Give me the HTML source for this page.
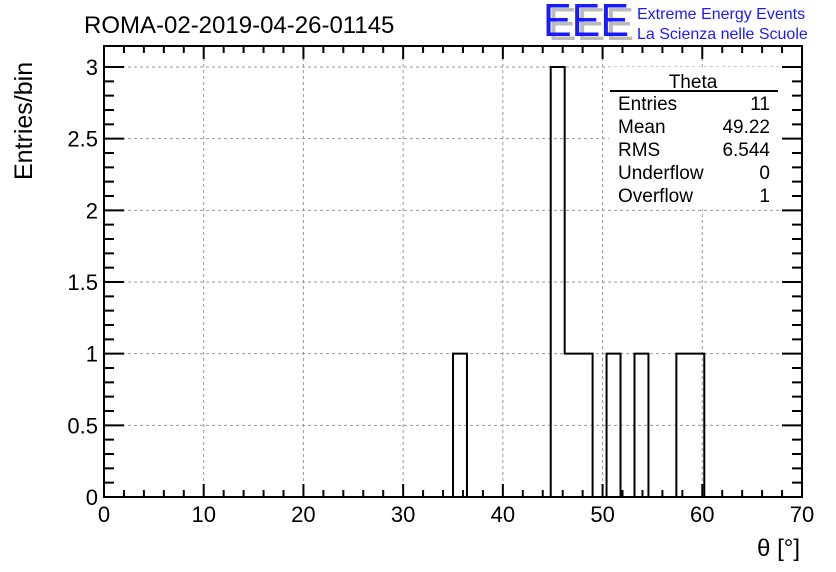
<!DOCTYPE html>
<html><head><meta charset="utf-8"><style>
html,body{margin:0;padding:0;background:#fff;}
svg{display:block;font-family:"Liberation Sans",sans-serif;}
</style></head><body>
<svg id="c" width="836" height="572" viewBox="0 0 836 572">
<rect width="836" height="572" fill="#fff"/>
<g id="grid"></g>
<g id="ticks"></g>
<path id="hist" fill="none" stroke="#000" stroke-width="2"/>
<rect x="104" y="46" width="698" height="451" fill="none" stroke="#000" stroke-width="2"/>
<g id="xlabels" font-size="22" text-anchor="middle"></g>
<g id="ylabels" font-size="22" text-anchor="end"></g>
<text x="84" y="33" font-size="24">ROMA-02-2019-04-26-01145</text>
<text x="800" y="556" font-size="24" text-anchor="end">θ [°]</text>
<text transform="translate(32,180) rotate(-90)" font-size="25">Entries/bin</text>
<g>
<text x="548" y="40" font-size="46" fill="#bbb" textLength="86" lengthAdjust="spacingAndGlyphs">EEE</text>
<text x="543" y="36" font-size="46" fill="#1a1aff" textLength="86" lengthAdjust="spacingAndGlyphs">EEE</text>
<text x="637" y="19" font-size="16" fill="#1a1aff">Extreme Energy Events</text>
<text x="637" y="39" font-size="16" fill="#1a1aff">La Scienza nelle Scuole</text>
</g>
<g font-size="19">
<rect x="609" y="67" width="170" height="142" fill="#fff"/>
<text x="693" y="88" text-anchor="middle">Theta</text>
<line x1="610" y1="91" x2="778" y2="91" stroke="#000" stroke-width="2"/>
<text x="618" y="110">Entries</text><text x="770" y="110" text-anchor="end">11</text>
<text x="618" y="133">Mean</text><text x="770" y="133" text-anchor="end">49.22</text>
<text x="618" y="156">RMS</text><text x="770" y="156" text-anchor="end">6.544</text>
<text x="618" y="179">Underflow</text><text x="770" y="179" text-anchor="end">0</text>
<text x="618" y="202">Overflow</text><text x="770" y="202" text-anchor="end">1</text>
</g>
</svg>
<script>
const binWidth = 1.4;
const nBins = 50;
const binStarts = [35.0, 44.8, 46.2, 47.6, 50.4, 53.2, 57.4, 58.8];
const binCounts = [1, 3, 1, 1, 1, 1, 1, 1];
const xTicks = [0,10,20,30,40,50,60,70];
const yTicks = [0,0.5,1,1.5,2,2.5,3];
const yTickLabels = ["0","0.5","1","1.5","2","2.5","3"];
const X0=104,X1=802,Y0=497,Y1=46;
const xs = v => X0 + (v-0)/70*(X1-X0);
const ys = v => Y0 - v/3*(Y0-67);
const NS="http://www.w3.org/2000/svg";
function mk(tag,attrs,parent){const e=document.createElementNS(NS,tag);for(const k in attrs)e.setAttribute(k,attrs[k]);parent.appendChild(e);return e;}
const grid=document.getElementById('grid'), ticks=document.getElementById('ticks');
xTicks.forEach(t=>{
  const l=mk('line',{x1:xs(t),x2:xs(t),y1:Y1,y2:Y0,stroke:'#999','stroke-dasharray':'3,3'},grid);
  
  
  const tx=mk('text',{x:xs(t),y:522},document.getElementById('xlabels'));
  tx.textContent=t;
  
  
});
yTicks.forEach((t,i)=>{
  const l=mk('line',{x1:X0,x2:X1,y1:ys(t),y2:ys(t),stroke:'#999','stroke-dasharray':'3,3'},grid);
  
  
  const tx=mk('text',{x:98,y:ys(t)+8},document.getElementById('ylabels'));
  tx.textContent=yTickLabels[i];
  
  
});
let d='';
for(let v=0;v<=70.001;v+=2){const len=(Math.round(v)%10===0)?13:7;const x=xs(v);
  d+=`M${x},${Y0}v${-len}M${x},${Y1}v${len}`;}
for(let v=0;v<=3.001;v+=0.1){const k=Math.round(v*10);const len=(k%5===0)?20:10;const y=ys(v);
  d+=`M${X0},${y}h${len}M${X1},${y}h${-len}`;}
mk('path',{d:d,stroke:'#000','stroke-width':2,fill:'none'},ticks);
// full bin array from data
const counts=new Array(nBins).fill(0);
binStarts.forEach((s,i)=>{counts[Math.round(s/binWidth)]+=binCounts[i];});
// step outline
let p=`M${xs(0)},${ys(0)}`;
let prev=0;
for(let k=0;k<nBins;k++){
  const c=counts[k];
  const x=xs(k*binWidth);
  if(c!==prev){p+=`L${x},${ys(prev)}L${x},${ys(c)}`;}
  prev=c;
}
p+=`L${xs(nBins*binWidth)},${ys(prev)}L${xs(nBins*binWidth)},${ys(0)}`;
document.getElementById('hist').setAttribute('d',p);
</script>
</body></html>
